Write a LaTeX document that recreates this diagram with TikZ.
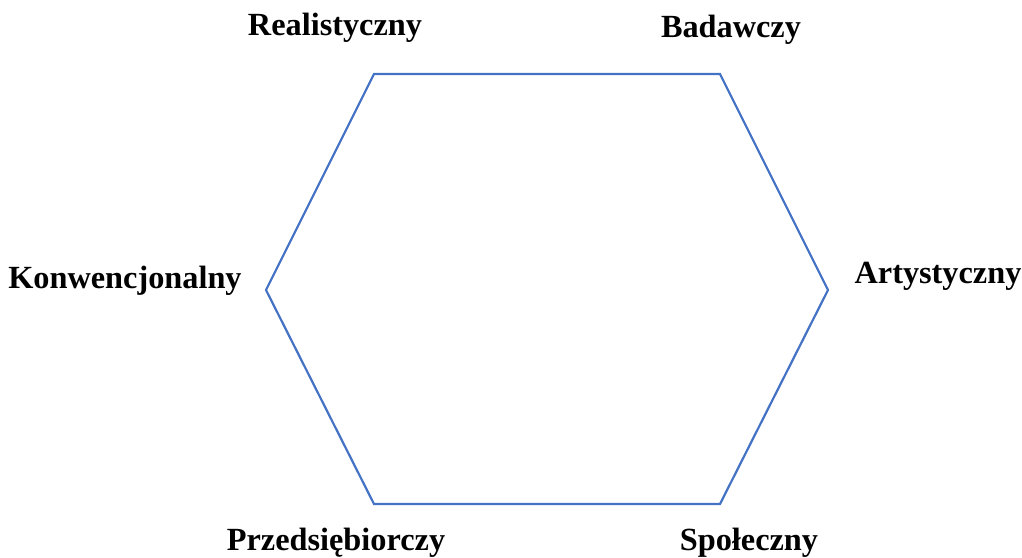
\documentclass[tikz,border=0pt]{standalone}
\usepackage{fontspec}
\setmainfont{Liberation Serif}
\definecolor{hexblue}{HTML}{4472C4}
\begin{document}
\begin{tikzpicture}[x=1pt,y=-1pt,
  lbl/.style={font=\fontsize{32.3}{38}\selectfont\bfseries, inner sep=0pt, anchor=center},
  hexline/.style={draw=hexblue, line width=2.2pt, line join=miter}]
\useasboundingbox (0,0) rectangle (1022,557);
\coordinate (v1) at (374,74);
\coordinate (v2) at (720,74);
\coordinate (v3) at (828,290);
\coordinate (v4) at (720,504);
\coordinate (v5) at (374,504);
\coordinate (v6) at (266,290);
\draw[hexline] (v1) -- (v2) -- (v3) -- (v4) -- (v5) -- (v6) -- cycle;
\node[lbl] (r) at (335,28) {Realistyczny};
\node[lbl] (b) at (731,30) {Badawczy};
\node[lbl] (k) at (125,281) {Konwencjonalny};
\node[lbl] (a) at (938,276) {Artystyczny};
\node[lbl] (p) at (336,543) {Przedsiębiorczy};
\node[lbl] (s) at (749,543) {Społeczny};
\end{tikzpicture}
\end{document}
